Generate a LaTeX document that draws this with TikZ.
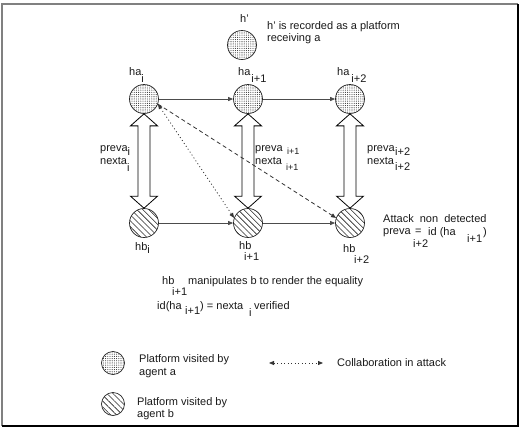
\documentclass[tikz,border=0pt]{standalone}
\usepackage{fontspec}
\setmainfont{Liberation Sans}
\usetikzlibrary{arrows.meta,patterns.meta,calc}
\newcommand{\lowr}[2]{\raisebox{-#1pt}{#2}}
\begin{document}
\begin{tikzpicture}[x=1pt,y=1pt,
  every node/.style={font=\fontsize{11}{13}\selectfont, inner sep=0pt, text=black!90},
  txt/.style={anchor=base west},
  small/.style={anchor=base west, font=\fontsize{9}{11}\selectfont},
  pla/.style={circle, draw=black!85, line width=0.7pt, minimum size=29pt,
    pattern={Dots[distance=2.2pt,radius=0.55pt]}, pattern color=black!80},
  plb/.style={circle, draw=black!85, line width=0.7pt, minimum size=29pt,
    pattern={Lines[angle=-45,distance=4.2pt,line width=0.6pt]}, pattern color=black!85},
  tipA/.tip={Triangle[length=5pt,width=4pt]},
  hop/.style={draw=black!70, line width=0.8pt, -tipA},
  collab/.style={draw=black!80, line width=0.8pt, dash pattern=on 1pt off 2.5pt, tipA-tipA},
  attack/.style={draw=black!80, line width=0.8pt, dash pattern=on 4pt off 3pt, -tipA},
  dblarrow/.style={draw=black, line width=0.8pt, fill=white},
  frameA/.style={draw=black!50, line width=1.2pt},
  frameB/.style={draw=black, line width=1.2pt}
]
\useasboundingbox (0,0) rectangle (523,-429);
% frame
\draw[frameA] (2,-426) -- (2,-4) -- (518,-4);
\draw[frameB] (518,-4) -- (518,-426) -- (2,-426);

% platforms
\node[pla] (hp)  at (242,-45) {};
\node[pla] (ha1) at (144,-99) {};
\node[pla] (ha2) at (248,-99) {};
\node[pla] (ha3) at (350,-99) {};
\node[plb] (hb1) at (144,-223) {};
\node[plb] (hb2) at (248,-223) {};
\node[plb] (hb3) at (350,-223) {};

% hollow double arrows
\foreach \k in {1,2,3} {
  \draw[dblarrow] (ha\k.south) -- ++(13.5,-12) -- ++(-7.5,0)
    -- ($(hb\k.north)+(6,12)$) -- ++(7.5,0) -- (hb\k.north)
    -- ++(-13.5,12) -- ++(7.5,0) -- ($(ha\k.south)+(-6,-12)$)
    -- ++(-7.5,0) -- cycle;
}

% connectors
\draw[hop] (ha1.east) -- (ha2.west);
\draw[hop] (ha2.east) -- (ha3.west);
\draw[hop] (hb1.east) -- (hb2.west);
\draw[hop] (hb2.east) -- (hb3.west);
\draw[collab] (ha1.-20) -- (hb2.160);
\draw[attack] (ha1.-20) -- (hb3.160);

% top labels
\node[txt] (lhp) at (240,-22) {h'};
\node[txt] (n1) at (267,-29) {h' is recorded as a platform};
\node[txt] (n2) at (267,-41) {receiving a};
\node[txt] (lha1) at (129,-75) {ha\lowr{7}{i}};
\node[txt] (lha2) at (238,-75) {ha\hspace{1pt}\lowr{7}{i+1}};
\node[txt] (lha3) at (337,-75) {ha\hspace{2pt}\lowr{7}{i+2}};

% column labels
\node[txt] (p1) at (100,-151) {preva\lowr{4}{i}};
\node[txt] (x1) at (100,-164) {nexta\lowr{7}{i}};
\node[txt] (p2) at (255,-151) {preva};
\node[small] (p2s) at (287,-154) {i+1};
\node[txt] (x2) at (255,-164) {nexta};
\node[small] (x2s) at (286,-170) {i+1};
\node[txt] (p3) at (367,-151) {preva};
\node[txt] (p3s) at (395,-155) {i+2};
\node[txt] (x3) at (367,-164) {nexta};
\node[txt] (x3s) at (395,-170) {i+2};

% bottom labels
\node[txt] (lhb1) at (135,-250) {hb\lowr{3}{i}};
\node[txt] (lhb2) at (239,-249) {hb};
\node[txt] (lhb2s) at (244,-260) {i+1};
\node[txt] (lhb3) at (343,-252) {hb};
\node[txt] (lhb3s) at (354,-263) {i+2};

% attack note
\node[txt] (at1) at (383,-222) {Attack\ \ non\ \ detected};
\node[txt] (at2) at (383,-234) {preva};
\node[txt] (at3) at (413,-247) {i+2};
\node[txt] (at4) at (415,-234) {=};
\node[txt] (at5) at (428,-235) {id (ha};
\node[txt] (at6) at (467,-242) {i+1};
\node[txt] (at7) at (483,-235) {)};

% manipulation note
\node[txt] (m1) at (162,-284) {hb};
\node[txt] (m2) at (172,-295) {i+1};
\node[txt] (m3) at (188,-284) {manipulates b to render the equality};
\node[txt] (m4) at (157,-309) {id(ha};
\node[txt] (m5) at (185,-314) {i+1};
\node[txt] (m6) at (200,-309) {) = nexta};
\node[txt] (m7) at (249,-316) {i};
\node[txt] (m8) at (254,-309) {verified};

% legend
\node[pla, minimum size=23pt] (lga) at (113,-363) {};
\node[plb, minimum size=23pt] (lgb) at (113,-404) {};
\node[txt] (lt1) at (139,-362) {Platform visited by};
\node[txt] (lt2) at (139,-375) {agent a};
\node[txt] (lt3) at (137,-405) {Platform visited by};
\node[txt] (lt4) at (137,-417) {agent b};
\coordinate (ca) at (269,-363);
\coordinate (cb) at (323,-363);
\draw[collab] (ca) -- (cb);
\node[txt] (lt5) at (337,-366) {Collaboration in attack};
\end{tikzpicture}
\end{document}
